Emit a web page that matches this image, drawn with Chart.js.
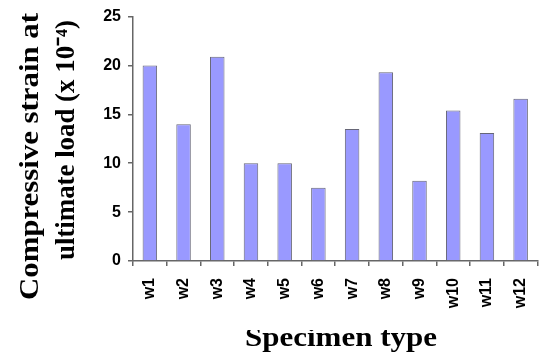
<!DOCTYPE html>
<html>
<head>
<meta charset="utf-8">
<script src="https://cdn.jsdelivr.net/npm/chart.js@4/dist/chart.umd.min.js"></script>
<style>
  html, body { margin: 0; padding: 0; background: #ffffff; }
  #wrap { width: 552px; height: 358px; position: relative; }
</style>
</head>
<body>
<div id="wrap"><canvas id="c" width="552" height="358"></canvas></div>
<script>
const categories = ['w1', 'w2', 'w3', 'w4', 'w5', 'w6', 'w7', 'w8', 'w9', 'w10', 'w11', 'w12'];
const strainValues = [20.0, 14.0, 20.9, 10.0, 10.0, 7.5, 13.5, 19.3, 8.2, 15.4, 13.1, 16.6];
const yTickValues = [0, 5, 10, 15, 20, 25];
const yTitleLines = ['Compressive strain at', 'ultimate load (x 10\u207B\u2074)'];
const xTitleText = 'Specimen type';

const titlePlugin = {
  id: 'stretchedTitles',
  afterDraw(chart) {
    const ctx = chart.ctx;
    ctx.save();
    ctx.fillStyle = '#000000';
    ctx.font = 'bold 27px "Liberation Serif", "Times New Roman", serif';
    ctx.textAlign = 'center';
    ctx.textBaseline = 'alphabetic';
    const yLines = [
      { text: yTitleLines[0], top: 13, bottom: 300, base: 38 },
      { text: yTitleLines[1], top: 20, bottom: 260, base: 74 }
    ];
    yLines.forEach(l => {
      ctx.save();
      ctx.translate(l.base, (l.top + l.bottom) / 2);
      ctx.rotate(-Math.PI / 2);
      const w = ctx.measureText(l.text).width;
      ctx.scale((l.bottom - l.top) / w, 1);
      ctx.fillText(l.text, 0, 0);
      ctx.restore();
    });
    ctx.save();
    ctx.beginPath();
    ctx.rect(0, 330, chart.width, chart.height - 330);
    ctx.clip();
    const left = 245, right = 437;
    ctx.translate((left + right) / 2, 346);
    const w = ctx.measureText(xTitleText).width;
    ctx.scale((right - left) / w, 1);
    ctx.fillText(xTitleText, 0, 0);
    ctx.restore();
    ctx.restore();
  }
};

new Chart(document.getElementById('c'), {
  type: 'bar',
  data: {
    labels: categories,
    datasets: [{
      data: strainValues,
      backgroundColor: '#9999ff',
      borderColor: '#666677',
      borderWidth: 1,
      barPercentage: 0.43,
      categoryPercentage: 1.0
    }]
  },
  options: {
    responsive: false,
    animation: false,
    devicePixelRatio: 1,
    layout: { padding: { left: 90, right: 4, top: 15, bottom: 0 } },
    plugins: { legend: { display: false }, tooltip: { enabled: false }, title: { display: false } },
    scales: {
      x: {
        offset: true,
        grid: { display: true, offset: true, drawOnChartArea: false, drawTicks: true, tickLength: 5, color: '#666666', lineWidth: 1.5 },
        border: { display: true, color: '#666666', width: 1.5 },
        ticks: {
          color: '#000000',
          font: { family: '"Liberation Sans", Arial, sans-serif', size: 16, weight: 'bold' },
          minRotation: 90, maxRotation: 90, padding: 12, autoSkip: false
        },
        afterFit(s) { s.height = 97; }
      },
      y: {
        min: 0, max: 25,
        afterBuildTicks(s) { s.ticks = yTickValues.map(v => ({ value: v })); },
        grid: { display: true, drawOnChartArea: false, drawTicks: true, tickLength: 5, color: '#666666', lineWidth: 1.5 },
        border: { display: true, color: '#666666', width: 1.5 },
        ticks: {
          color: '#000000',
          font: { family: '"Liberation Sans", Arial, sans-serif', size: 16, weight: 'bold' },
          padding: 7
        },
        afterFit(s) { s.width = 43; }
      }
    }
  },
  plugins: [titlePlugin]
});
</script>
</body>
</html>
